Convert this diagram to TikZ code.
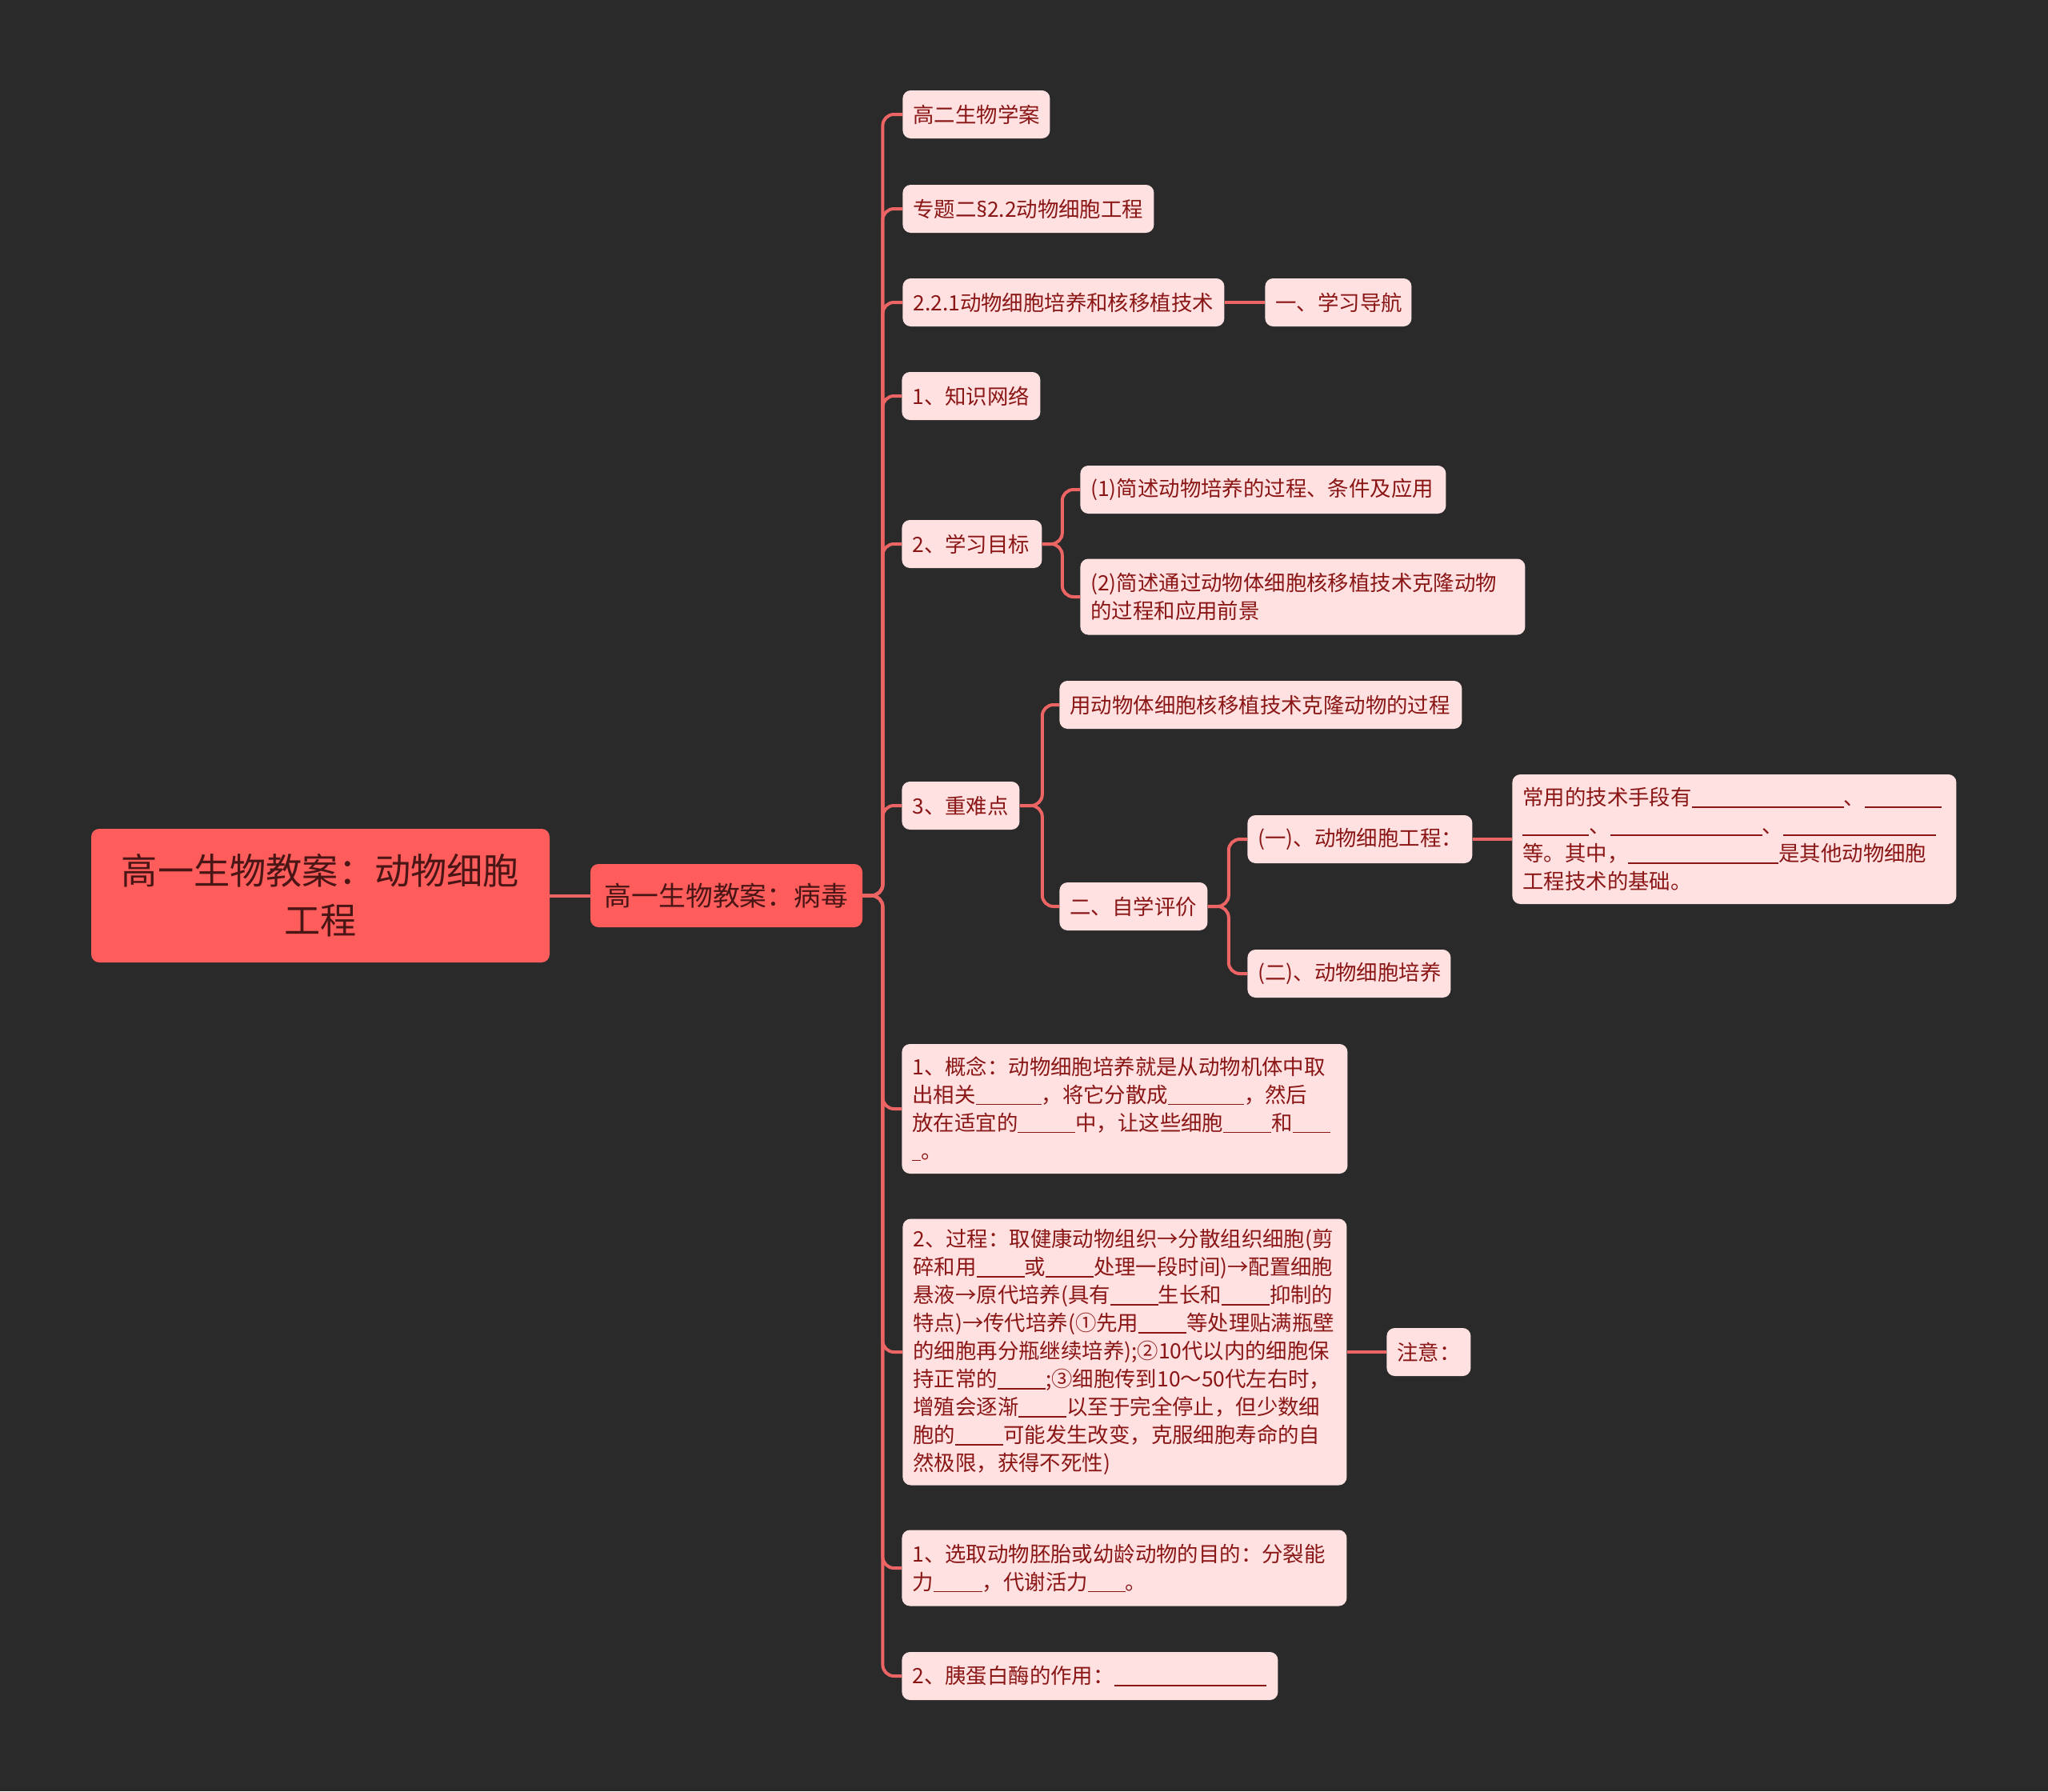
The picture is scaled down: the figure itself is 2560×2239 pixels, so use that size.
\documentclass[tikz,border=0pt]{standalone}
\usepackage{fontspec}
\newfontfamily\cjk{Noto Sans CJK SC}
\newfontfamily\latinsym{Noto Sans}
\definecolor{bgc}{HTML}{2A2A2A}
\definecolor{mainred}{HTML}{FF5C5C}
\definecolor{leafbg}{HTML}{FFE1E1}
\definecolor{leaftext}{HTML}{8A1616}
\definecolor{roottext}{HTML}{4A1515}
\definecolor{linec}{HTML}{EC6464}
\newcommand\blk[1]{\rule[-1.6pt]{#1pt}{0.7pt}}
\begin{document}
\begin{tikzpicture}[x=0.5pt,y=-0.5pt,
  leaf/.style={fill=leafbg, rounded corners=5pt, text=leaftext,
    font=\cjk\fontsize{13.2}{17.5}\selectfont, align=left,
    inner xsep=6.5pt, inner ysep=0pt, anchor=west, minimum height=30pt},
  topicbox/.style={fill=mainred, rounded corners=5pt, text=roottext, align=center, inner sep=0pt},
  conn/.style={draw=linec, line width=2pt, rounded corners=7pt}
]
\fill[bgc] (0,0) rectangle (2560,2239);
\useasboundingbox (0,0) rectangle (2560,2239);

% root and main topic
\node[topicbox, minimum width=286.5pt, minimum height=83.5pt,
  font=\cjk\fontsize{22.6}{31}\selectfont] (root) at (400.5,1119.5) {高一生物教案：动物细胞\\工程};
\node[topicbox, minimum width=170pt, minimum height=39.5pt,
  font=\cjk\fontsize{16.9}{21}\selectfont] (bd) at (908,1119.5) {高一生物教案：病毒};

% level-2 nodes
\node[leaf, text width=79pt] (n1) at (1128,143) {高二生物学案};
\node[leaf, text width=144pt] (n2) at (1128,261) {专题二{\latinsym §}2.2动物细胞工程};
\node[leaf, text width=188pt] (n3) at (1128,378) {2.2.1动物细胞培养和核移植技术};
\node[leaf, text width=78.5pt] (n3a) at (1581,378) {一、学习导航};
\node[leaf, text width=73.5pt] (n4) at (1127,495) {1、知识网络};
\node[leaf, text width=74.5pt] (n5) at (1127,680) {2、学习目标};
\node[leaf, text width=215.5pt] (n5a) at (1350,612) {(1)简述动物培养的过程、条件及应用};
\node[leaf, text width=265pt, minimum height=47.5pt] (n5b) at (1350,746) {(2)简述通过动物体细胞核移植技术克隆动物\\的过程和应用前景};
\node[leaf, text width=60.5pt] (n6) at (1127,1007) {3、重难点};
\node[leaf, text width=238.5pt] (n6a) at (1324,881) {用动物体细胞核移植技术克隆动物的过程};
\node[leaf, text width=79.5pt] (n6b) at (1324,1133) {二、自学评价};
\node[leaf, text width=127.5pt] (n6b1) at (1559,1049) {(一)、动物细胞工程：};
\node[leaf, text width=264.5pt, minimum height=81pt] (n6b1a) at (1890,1049)
  {常用的技术手段有\blk{95}、\blk{48}\\\blk{41.5}、\blk{95}、\blk{95.5}\\等。其中，\blk{94}是其他动物细胞\\工程技术的基础。};
\node[leaf, text width=114pt] (n6b2) at (1559,1217) {(二)、动物细胞培养};
\node[leaf, text width=265.5pt, minimum height=81pt] (n7) at (1127,1386)
  {1、概念：动物细胞培养就是从动物机体中取\\出相关\blk{41}，将它分散成\blk{47.5}，然后\\放在适宜的\blk{36}中，让这些细胞\blk{30}和\blk{23.5}\\\blk{5.5}。};
\node[leaf, text width=264.5pt, minimum height=166.5pt] (n8) at (1128,1690)
  {2、过程：取健康动物组织→分散组织细胞(剪\\碎和用\blk{30}或\blk{30}处理一段时间)→配置细胞\\悬液→原代培养(具有\blk{30}生长和\blk{30}抑制的\\特点)→传代培养(①先用\blk{30}等处理贴满瓶壁\\的细胞再分瓶继续培养);②10代以内的细胞保\\持正常的\blk{30};③细胞传到10～50代左右时，\\增殖会逐渐\blk{30}以至于完全停止，但少数细\\胞的\blk{30}可能发生改变，克服细胞寿命的自\\然极限，获得不死性)};
\node[leaf, text width=39.5pt] (n8a) at (1733,1690) {注意：};
\node[leaf, text width=265pt, minimum height=47.5pt] (n9) at (1127,1960)
  {1、选取动物胚胎或幼龄动物的目的：分裂能\\力\blk{30.5}，代谢活力\blk{23.5}。};
\node[leaf, text width=222pt] (n10) at (1127,2095) {\mbox{2、胰蛋白酶的作用：\blk{95}}};

% connectors
\draw[conn] (root.east) -- (bd.west);
\foreach \c in {n1,n2,n3,n4,n5,n6,n7,n8,n9,n10}
  \draw[conn] (bd.east) -- ++(25,0) |- (\c.west);
\draw[conn] (n3.east) -- (n3a.west);
\foreach \c in {n5a,n5b}
  \draw[conn] (n5.east) -- ++(25,0) |- (\c.west);
\foreach \c in {n6a,n6b}
  \draw[conn] (n6.east) -- ++(28,0) |- (\c.west);
\foreach \c in {n6b1,n6b2}
  \draw[conn] (n6b.east) -- ++(26,0) |- (\c.west);
\draw[conn] (n6b1.east) -- (n6b1a.west);
\draw[conn] (n8.east) -- (n8a.west);
\end{tikzpicture}
\end{document}
